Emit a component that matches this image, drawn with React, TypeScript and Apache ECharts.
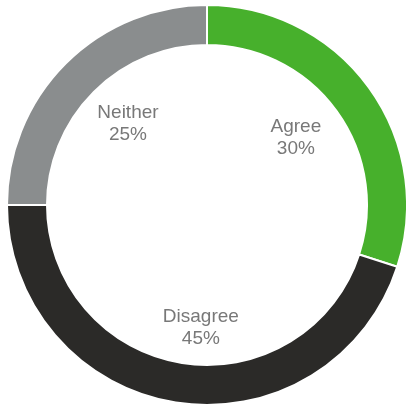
import React, { useEffect, useRef } from "react";
import * as echarts from "echarts";

const categories = ["Agree", "Disagree", "Neither"];
const values = [30, 45, 25];
const colors = ["#47b02c", "#2b2a28", "#8a8d8e"];

const labelPadding: Record<string, number[]> = {
  Agree: [0, 10, 0, 0],
  Disagree: [0, 0, 0, 24],
  Neither: [0, 0, 0, 6],
};
const labelDrop: Record<string, number> = { Agree: 0, Disagree: 14, Neither: 0 };

export default function App() {
  const ref = useRef<HTMLDivElement>(null);
  useEffect(() => {
    if (!ref.current) return;
    const chart = echarts.init(ref.current, undefined, { renderer: "svg" });
    const data = categories.map((c, i) => ({
      name: c,
      value: values[i],
      itemStyle: { color: colors[i] },
    }));
    const labelData = categories.map((c, i) => ({
      name: c,
      value: values[i],
      label: { padding: labelPadding[c] },
    }));
    chart.setOption({
      animation: false,
      series: [
        {
          type: "pie",
          center: [207, 205],
          radius: [160, 200],
          startAngle: 90,
          clockwise: true,
          silent: true,
          label: { show: false },
          labelLine: { show: false },
          itemStyle: { borderColor: "#ffffff", borderWidth: 2 },
          data,
        },
        {
          type: "pie",
          center: [207, 205],
          radius: [0, 226],
          startAngle: 90,
          clockwise: true,
          silent: true,
          itemStyle: { color: "transparent" },
          labelLine: { show: false },
          label: {
            show: true,
            position: "inside",
            formatter: (p: any) =>
              (labelDrop[p.name] ? "{sp|}\n" : "") +
              "{t|" + p.name + "}\n{t|" + p.value + "%}",
            color: "#787878",
            fontFamily: "'Liberation Sans', Arial, sans-serif",
            fontSize: 19,
            lineHeight: 22,
            align: "center",
            rich: {
              t: {
                color: "#787878",
                fontFamily: "'Liberation Sans', Arial, sans-serif",
                fontSize: 19,
                lineHeight: 22,
                align: "center",
              },
              sp: { fontSize: 1, lineHeight: 14 },
            },
          },
          data: labelData,
        },
      ],
    });
    return () => chart.dispose();
  }, []);
  return (
    <div
      ref={ref}
      style={{ position: "fixed", left: 0, top: 0, width: 406, height: 405 }}
    />
  );
}
